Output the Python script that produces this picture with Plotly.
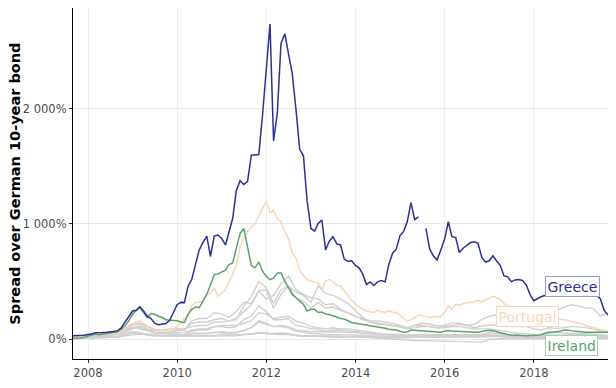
import pandas as pd
import plotly.graph_objects as go

# ---------------- data (spread over German 10-year bond, %) ----------------
# monthly, month-end dates 2007-08-31 .. 2019-08-31 (145 points)
greece = [
    30, 30, 32, 35,                                              # 2007
    42, 45, 57, 55, 58, 60, 62, 68, 75, 100, 150, 200,           # 2008
    245, 252, 283, 245, 200, 180, 140, 126, 130, 137, 165, 230,  # 2009
    300, 320, 318, 460, 520, 650, 775, 840, 895, 718, 895, 904,  # 2010
    875, 818, 933, 1047, 1290, 1376, 1342, 1368, 1597, 1600, 1602, 1934,  # 2011
    2363, 2735, 1720, 1963, 2564, 2650, 2478, 2306, 1991, 1648, 1591, 1200,  # 2012
    961, 938, 1004, 1033, 775, 852, 890, 827, 818, 695, 675, 681,  # 2013
    641, 618, 567, 475, 498, 466, 498, 509, 498, 647, 747, 781,  # 2014
    899, 938, 1019, 1185, 1039, 1062, None, 961, 784, 724, 687, 775,  # 2015
    867, 1019, 890, 884, 753, 790, 818, 839, 845, 833, 710, 670,  # 2016
    681, 724, 681, 641, 552, 541, 500, 515, 518, 510, 470, 390,  # 2017
    335, 355, 369, 380, 395, 390, 385, 390, 405, 410, 405, 400,  # 2018
    395, 400, 390, 380, 385, 380, 350, 250, 210,                 # 2019
]
portugal = [
    20, 20, 22, 25,
    32, 35, 45, 40, 42, 45, 45, 48, 55, 65, 88, 110,
    131, 150, 160, 137, 115, 103, 85, 75, 75, 72, 75, 85,
    110, 140, 175, 217, 289, 318, 320, 332, 389, 400, 446, 375,
    400, 432, 500, 560, 647, 800, 876, 933, 980, 1004, 1076, 1133,
    1196, 1099, 1118, 1047, 1019, 933, 876, 750, 704, 600, 550, 520,
    504, 500, 490, 432, 504, 518, 500, 470, 461, 420, 375, 340,
    303, 280, 260, 246, 240, 232, 252, 240, 232, 246, 235, 232,
    210, 180, 155, 170, 189, 210, 203, 195, 189, 195, 195, 195,
    240, 289, 260, 303, 298, 310, 318, 318, 330, 337, 323, 345,
    355, 375, 360, 346, 309, 290, 280, 270, 260, 240, 230, 210,
    200, 200, 190, 180, 175, 185, 180, 178, 175, 165, 155, 150,
    146, 135, 120, 110, 103, 95, 85, 78, 75,
]
ireland = [
    10, 10, 12, 18,
    28, 32, 45, 40, 45, 50, 55, 58, 65, 90, 117, 160,
    217, 250, 275, 232, 189, 223, 217, 200, 189, 170, 166, 166,
    160, 150, 146, 217, 260, 280, 275, 330, 389, 470, 560, 567,
    580, 600, 647, 661, 790, 918, 961, 800, 640, 620, 670, 590,
    547, 518, 530, 575, 575, 504, 446, 389, 360, 330, 303, 246,
    260, 260, 232, 237, 220, 215, 203, 190, 180, 175, 160, 146,
    140, 135, 131, 125, 117, 112, 108, 103, 95, 88, 85, 80,
    70, 60, 62, 80, 78, 75, 75, 70, 65, 62, 60, 62,
    70, 75, 72, 69, 70, 65, 62, 60, 60, 62, 70, 75,
    78, 75, 65, 55, 46, 42, 38, 35, 32, 32, 30, 32,
    32, 35, 40, 50, 60, 62, 65, 70, 78, 80, 75, 70,
    65, 62, 60, 62, 60, 58, 60, 60, 60,
]

# other euro-area countries, every second month (73 points)
italy = [
    25, 30, 35, 45, 45, 55, 65, 95,
    140, 140, 110, 85, 75, 75,
    85, 80, 140, 150, 150, 170,
    180, 160, 170, 290, 370, 500,
    450, 310, 430, 460, 360, 330,
    270, 320, 270, 280, 250, 230,
    200, 180, 160, 160, 150, 140,
    120, 100, 120, 120, 110, 100,
    110, 120, 130, 120, 130, 170,
    200, 210, 190, 170, 180, 170,
    150, 140, 180, 250, 275, 300,
    290, 270, 270, 200, 230,
]
spain = [
    10, 12, 20, 30, 35, 45, 55, 75,
    100, 95, 80, 60, 55, 60,
    75, 80, 160, 180, 180, 230,
    220, 190, 240, 320, 310, 420,
    350, 380, 480, 550, 430, 390,
    360, 350, 300, 310, 260, 230,
    200, 170, 150, 130, 130, 120,
    110, 95, 120, 140, 130, 115,
    120, 140, 140, 120, 100, 115,
    120, 120, 130, 110, 110, 110,
    90, 80, 100, 95, 100, 110,
    110, 100, 90, 70, 70,
]
slovenia = [
    15, 15, 20, 30, 35, 40, 50, 70,
    100, 110, 90, 80, 80, 90,
    90, 90, 110, 120, 120, 150,
    150, 160, 180, 240, 300, 420,
    430, 270, 390, 460, 410, 380,
    320, 460, 400, 380, 350, 310,
    250, 190, 150, 140, 130, 120,
    110, 90, 100, 110, 110, 100,
    100, 110, 110, 100, 90, 90,
    90, 80, 70, 60, 50, 50,
    40, 40, 50, 60, 55, 55,
    50, 50, 45, 40, 35,
]
belgium = [
    15, 15, 20, 30, 35, 45, 50, 80,
    100, 90, 70, 55, 50, 45,
    45, 40, 70, 80, 80, 110,
    110, 100, 110, 170, 200, 290,
    240, 170, 170, 180, 120, 110,
    90, 90, 70, 80, 80, 70,
    70, 60, 55, 45, 40, 40,
    35, 30, 40, 45, 40, 35,
    35, 40, 40, 40, 35, 40,
    45, 50, 40, 35, 35, 30,
    30, 30, 35, 35, 35, 40,
    40, 40, 40, 35, 30,
]
france = [
    8, 10, 12, 15, 18, 20, 25, 40,
    55, 55, 45, 35, 30, 30,
    30, 30, 50, 50, 50, 60,
    55, 50, 55, 80, 100, 150,
    130, 110, 120, 110, 80, 70,
    65, 70, 60, 65, 60, 60,
    60, 50, 45, 40, 35, 35,
    30, 25, 25, 30, 30, 30,
    30, 35, 35, 35, 35, 45,
    60, 70, 45, 35, 35, 30,
    30, 30, 35, 35, 35, 45,
    40, 35, 35, 30, 25,
]
austria = [
    10, 12, 15, 20, 25, 30, 40, 80,
    120, 130, 90, 60, 50, 45,
    45, 40, 50, 50, 50, 60,
    65, 60, 60, 75, 100, 160,
    140, 110, 110, 100, 70, 60,
    50, 50, 40, 40, 40, 40,
    40, 35, 30, 30, 25, 25,
    20, 20, 20, 25, 25, 20,
    20, 25, 25, 25, 25, 30,
    35, 35, 30, 25, 25, 25,
    25, 25, 25, 25, 25, 30,
    30, 25, 25, 20, 20,
]
netherlands = [
    5, 8, 10, 12, 15, 18, 25, 45,
    65, 60, 40, 30, 28, 25,
    25, 25, 30, 28, 25, 30,
    30, 30, 30, 40, 45, 60,
    55, 50, 55, 50, 30, 25,
    25, 25, 20, 20, 20, 25,
    25, 25, 20, 18, 15, 15,
    15, 15, 15, 15, 15, 15,
    15, 15, 15, 15, 15, 20,
    25, 30, 20, 15, 15, 15,
    15, 15, 15, 15, 15, 15,
    15, 15, 15, 12, 12,
]
finland = [
    5, 7, 8, 10, 12, 15, 20, 35,
    60, 55, 35, 30, 30, 25,
    25, 25, 30, 28, 25, 30,
    35, 35, 35, 45, 45, 55,
    50, 40, 40, 40, 30, 25,
    25, 25, 20, 20, 20, 20,
    20, 20, 18, 15, 15, 15,
    15, 15, 15, 18, 20, 20,
    20, 25, 25, 25, 25, 25,
    25, 25, 25, 20, 20, 20,
    20, 20, 20, 20, 20, 20,
    20, 20, 20, 18, 18,
]
slovakia = [
    20, 20, 25, 30, 30, 35, 40, 60,
    90, 110, 80, 60, 60, 60,
    60, 60, 80, 90, 90, 110,
    120, 120, 120, 140, 160, 230,
    220, 180, 190, 200, 160, 140,
    110, 100, 90, 100, 90, 90,
    80, 70, 60, 50, 45, 45,
    40, 35, 35, 40, 40, 40,
    40, 45, 45, 40, 35, 30,
    30, 30, 30, 25, 25, 25,
    20, 20, 25, 25, 25, 30,
    30, 30, 25, 20, 20,
]
luxembourg = [
    10, 10, 12, 15, 15, 18, 20, 30,
    40, 45, 40, 35, 30, 30,
    30, 28, 30, 30, 30, 35,
    35, 35, 35, 40, 45, 55,
    50, 45, 45, 45, 35, 30,
    30, 30, 25, 25, 25, 25,
    25, 20, 15, 10, 5, 0,
    -5, -10, -10, -12, -15, -15,
    -15, -18, -20, -22, -25, -25,
    0, 5, 5, 5, 5, 5,
    5, 5, 5, 5, 5, 5,
    5, 5, 5, 5, 5,
]

y_tick_vals = [0, 1000, 2000]
y_tick_text = ["0%", "1 000%", "2 000%"]
x_tick_years = [2008, 2010, 2012, 2014, 2016, 2018]

# ---------------- build ----------------
months = pd.date_range("2007-09-01", periods=len(greece), freq="MS") - pd.Timedelta(days=1)
bimonths = pd.date_range("2007-09-01", periods=len(italy), freq="2MS") - pd.Timedelta(days=1)

NAVY = "#2E3192"
PEACH = "#F9D6B4"
GREEN = "#5BA36B"
GRAY = "#D0D0D0"

fig = go.Figure()
for vals in [luxembourg, finland, netherlands, austria, france, belgium,
             slovakia, slovenia, spain, italy]:
    fig.add_trace(go.Scatter(x=bimonths, y=vals, mode="lines",
                             line=dict(color=GRAY, width=1.4),
                             hoverinfo="skip", showlegend=False))

for vals, col in [(portugal, PEACH), (ireland, GREEN), (greece, NAVY)]:
    fig.add_trace(go.Scatter(x=months, y=vals, mode="lines",
                             line=dict(color=col, width=1.5),
                             connectgaps=False, showlegend=False))

labels = [
    ("Greece", "2018-11-15", 455, NAVY, "#9A9CCB"),
    ("Portugal", "2017-11-13", 198, PEACH, PEACH),
    ("Ireland", "2018-11-08", -52, GREEN, "#A7D0B0"),
]
for txt, xd, yv, col, bcol in labels:
    fig.add_annotation(x=xd, y=yv, xref="x", yref="y", text=txt, showarrow=False,
                       font=dict(family="DejaVu Sans", size=14, color=col),
                       bgcolor="white", bordercolor=bcol, borderwidth=1, borderpad=1.5)

fig.add_annotation(x=-0.11, y=0.5, xref="paper", yref="paper",
                   text="<b>Spread over German 10-year bond</b>", textangle=-90,
                   showarrow=False, xanchor="center", yanchor="middle",
                   font=dict(family="DejaVu Sans", size=14.5, color="black"))

fig.update_layout(
    width=616, height=388,
    margin=dict(l=73, r=8, t=8, b=26),
    paper_bgcolor="white", plot_bgcolor="white",
    font=dict(family="DejaVu Sans", size=11.5, color="#4D4D4D"),
    showlegend=False,
)
fig.update_xaxes(
    range=[months[0], months[-1]],
    tickvals=[pd.Timestamp(f"{y}-01-01") for y in x_tick_years],
    ticktext=[str(y) for y in x_tick_years],
    showgrid=True, gridcolor="#EFEFEF", gridwidth=1,
    showline=True, linecolor="black", linewidth=1.2,
    ticks="outside", ticklen=3, tickcolor="#333333", tickwidth=1,
    tickfont=dict(size=11.5, color="#4D4D4D"), zeroline=False,
)
fig.update_yaxes(
    range=[-171, 2873],
    tickvals=y_tick_vals, ticktext=y_tick_text,
    showgrid=True, gridcolor="#E6E6E6", gridwidth=1,
    showline=True, linecolor="black", linewidth=1.2,
    ticks="outside", ticklen=3, tickcolor="#333333", tickwidth=1,
    tickfont=dict(size=11.5, color="#4D4D4D"), zeroline=False,
)

fig.write_html("out.html")
